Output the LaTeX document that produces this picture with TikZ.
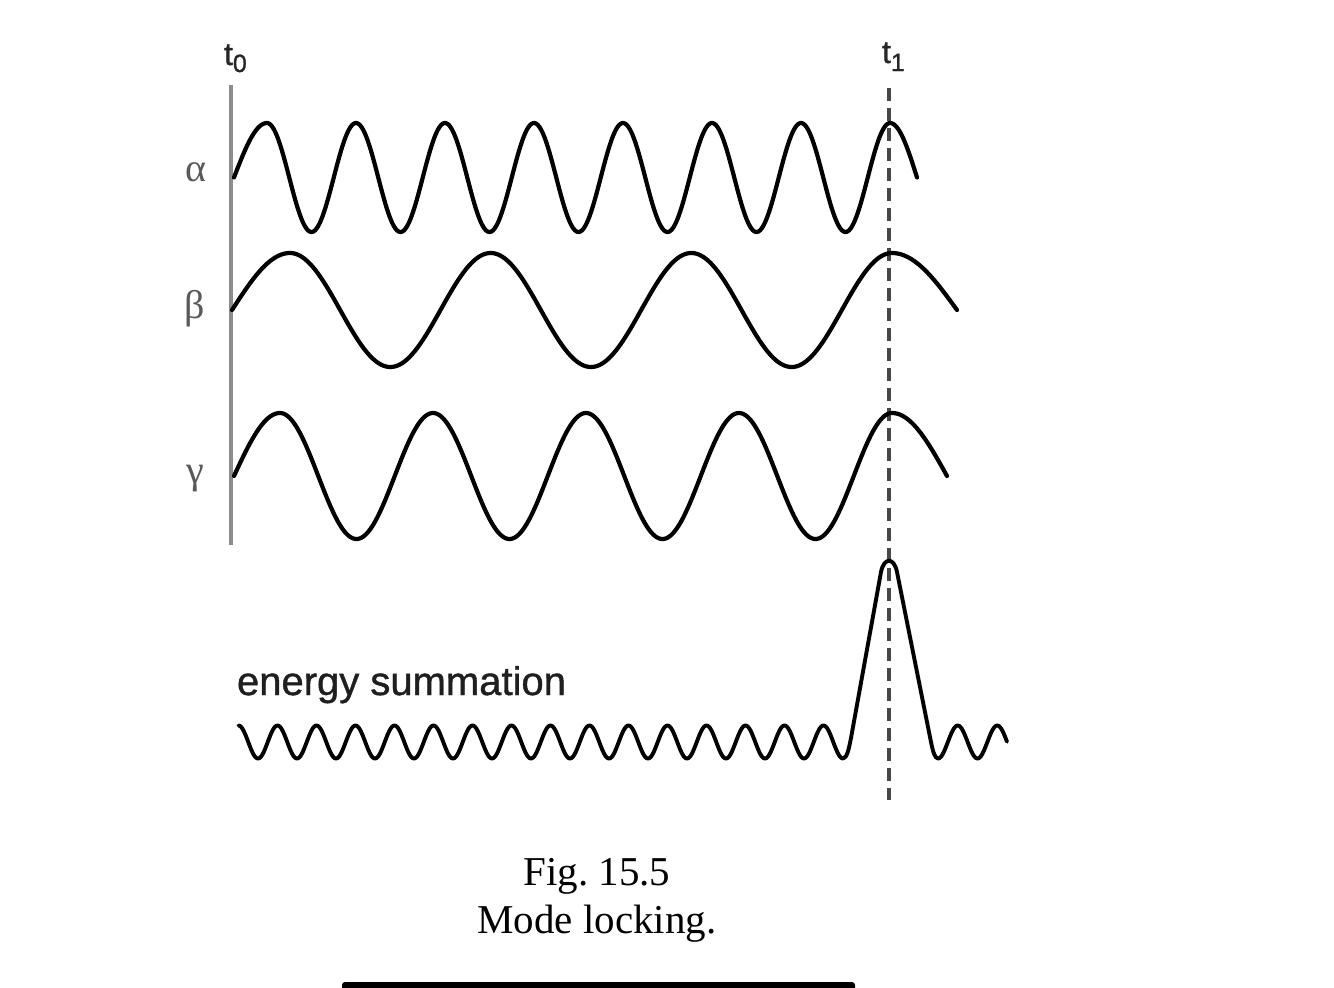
\documentclass[tikz,border=0pt]{standalone}
\usepackage{fontspec}
\setmainfont{Liberation Serif}
\newfontfamily\sansf[FakeBold=1]{Liberation Sans}
\begin{document}
\frenchspacing
\begin{tikzpicture}[x=1pt,y=1pt,
  wave/.style={line width=4.2pt, line join=round, line cap=round, black},
  lbl/.style={inner sep=0pt, outer sep=0pt}]
\fill[white] (0,0) rectangle (1334,-988);
\useasboundingbox (0,0) rectangle (1334,-988);

% time markers
\coordinate (t0top) at (231,-85);
\coordinate (t0bot) at (231,-545);
\draw[line width=3.4pt, black!45] (t0top) -- (t0bot);
\coordinate (t1top) at (889,-88);
\coordinate (t1bot) at (889,-800);
\draw[line width=3.2pt, black!72, dash pattern=on 13pt off 7pt] (t1top) -- (t1bot);

% alpha wave
\draw[wave] plot[domain=0:90,samples=30] ({234+33*\x/90},{-(177.5-54.5*sin(\x))})
  -- plot[domain=267:890,samples=500] (\x,{-(177.5-54.5*cos((\x-267)/89*360))})
  -- plot[domain=0:90,samples=30] ({890+27*\x/90},{-(177.5-54.5*cos(\x))});

% beta wave
\draw[wave] plot[domain=0:90,samples=40] ({232+58*\x/90},{-(310-57*sin(\x))})
  -- plot[domain=290:892,samples=400] (\x,{-(310-57*cos((\x-290)/200.67*360))})
  -- plot[domain=0:90,samples=40] ({892+65*\x/90},{-(310-57*cos(\x))});

% gamma wave
\draw[wave] plot[domain=0:90,samples=40] ({234+46*\x/90},{-(476-63*sin(\x))})
  -- plot[domain=280:892,samples=400] (\x,{-(476-63*cos((\x-280)/153*360))})
  -- plot[domain=0:90,samples=40] ({892+55*\x/90},{-(476-63*cos(\x))});

% energy summation
\draw[wave, line width=3.9pt] plot[domain=238.5:843, samples=600] (\x,{-(742-16.5*cos((\x-238.5)/39*360))})
  .. controls (847,-758.5) and (849,-748) .. (851,-738)
  -- (881,-572)
  .. controls (884,-557) and (894,-557) .. (897,-572)
  -- (931,-742)
  .. controls (933,-752) and (935,-758.5) .. (938,-758.5)
  -- plot[domain=938:1007, samples=80] (\x,{-(742+16.5*cos((\x-938)/39.5*360))});

% labels
\node[lbl, anchor=base west, text=black!85] (t0) at (224,-65)
  {\sansf\fontsize{32}{32}\selectfont t\raisebox{-7pt}{\fontsize{25}{25}\selectfont 0}};
\node[lbl, anchor=base west, text=black!85] (t1) at (882,-63)
  {\sansf\fontsize{32}{32}\selectfont t\raisebox{-8pt}{\fontsize{25}{25}\selectfont 1}};
\node[lbl, text=black!65] (alpha) at (196,-172) {\fontsize{40}{40}\selectfont α};
\node[lbl, text=black!65] (beta) at (195,-309) {\fontsize{40}{40}\selectfont β};
\node[lbl, text=black!65] (gamma) at (195,-479) {\fontsize{40}{40}\selectfont γ};
\node[lbl, anchor=base west, text=black!88] (es) at (237,-695)
  {\sansf\fontsize{40}{40}\selectfont energy summation};

% caption
\node[lbl, anchor=base] (fig) at (597,-885) {\fontsize{41}{41}\selectfont Fig. 15.5};
\node[lbl, anchor=base] (cap) at (597,-933) {\fontsize{41}{41}\selectfont Mode locking.};

% bottom bar
\fill[black] (342,-988) -- (342,-985) to[out=90,in=180] (345,-982) -- (852,-982)
  to[out=0,in=90] (855,-985) -- (855,-988) -- cycle;
\end{tikzpicture}
\end{document}
